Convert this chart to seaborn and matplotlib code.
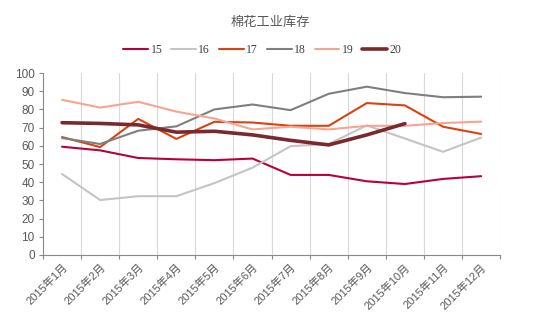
import numpy as np
import pandas as pd
import matplotlib
matplotlib.use("Agg")
import matplotlib.pyplot as plt
import seaborn as sns
from matplotlib.ticker import FixedLocator

months = ["2015年1月", "2015年2月", "2015年3月", "2015年4月", "2015年5月", "2015年6月",
          "2015年7月", "2015年8月", "2015年9月", "2015年10月", "2015年11月", "2015年12月"]
s15 = [59.5, 57.5, 53.3, 52.6, 52.1, 53.0, 44.0, 44.0, 40.5, 39.0, 41.8, 43.3]
s16 = [44.5, 30.2, 32.3, 32.3, 39.5, 48.0, 59.8, 61.0, 71.2, 64.0, 56.7, 64.5]
s17 = [64.8, 59.3, 74.8, 63.8, 73.2, 72.8, 71.0, 71.0, 83.5, 82.2, 70.5, 66.5]
s18 = [64.3, 61.0, 68.3, 70.7, 80.0, 82.7, 79.6, 88.6, 92.5, 89.0, 86.7, 87.0]
s19 = [85.3, 81.0, 84.2, 78.8, 75.0, 69.0, 70.5, 69.0, 71.0, 71.0, 72.5, 73.3]
s20 = [72.7, 72.3, 71.5, 67.5, 68.0, 66.0, 63.0, 60.5, 66.0, 72.2]

series = {"15": s15, "16": s16, "17": s17, "18": s18, "19": s19, "20": s20}
colors = {"15": "#B8003C", "16": "#C4C4C4", "17": "#D8430F", "18": "#7F7F7F",
          "19": "#F6A592", "20": "#7A2A2E"}
widths = {"15": 1.5, "16": 1.5, "17": 1.5, "18": 1.5, "19": 1.5, "20": 2.6}

rows = []
for name, vals in series.items():
    for i, v in enumerate(vals):
        rows.append({"idx": i, "value": v, "series": name})
df = pd.DataFrame(rows)

sns.set_theme(style="white")
plt.rcParams['font.family'] = ['Liberation Sans', 'Noto Sans CJK SC', 'DejaVu Sans']

fig = plt.figure(figsize=(5.41, 3.29), dpi=100)
ax = fig.add_axes([0.0795, 0.225, 0.845, 0.553])

for name in series:
    sub = df[df["series"] == name]
    sns.lineplot(data=sub, x="idx", y="value", ax=ax, color=colors[name],
                 linewidth=widths[name], label=name, legend=False)

ax.set_xlim(-0.5, 11.5)
ax.set_ylim(0, 100)
ax.set_yticks(range(0, 101, 10))
ax.set_xticks(range(12))
ax.set_xticklabels(months, rotation=45, ha="right", rotation_mode="anchor",
                   fontsize=8, color="#595959")
ax.tick_params(axis="x", which="major", length=0, pad=5)
ax.xaxis.set_minor_locator(FixedLocator(np.arange(-0.5, 12, 1)))
ax.tick_params(axis="x", which="minor", length=3, color="#888888", width=0.8, bottom=True)
ax.tick_params(axis="y", labelsize=8.5, labelcolor="#595959", length=3, width=0.8,
               color="#888888", pad=3, left=True)
ax.grid(False)
for xb in np.arange(0.5, 12, 1):
    ax.axvline(xb, color="#D9D9D9", linewidth=0.8, zorder=0)
ax.set_xlabel("")
ax.set_ylabel("")
for sp in ["top", "right"]:
    ax.spines[sp].set_visible(False)
ax.spines["left"].set_color("#888888")
ax.spines["bottom"].set_color("#888888")
ax.spines["left"].set_linewidth(0.8)
ax.spines["bottom"].set_linewidth(0.8)

handles, labels = ax.get_legend_handles_labels()
leg = fig.legend(handles, labels, loc="center", bbox_to_anchor=(0.485, 0.848), ncol=6,
                 frameon=False, handlelength=2.1, handletextpad=0.2, columnspacing=0.75,
                 prop={"family": "Liberation Serif", "size": 8.5})
for t in leg.get_texts():
    t.set_color("#404040")

fig.text(0.5, 0.932, "棉花工业库存", ha="center", va="center", fontsize=9.5, color="#595959",
         family=["Noto Sans CJK SC", "DejaVu Sans"])

fig.savefig("out.png", dpi=100)
